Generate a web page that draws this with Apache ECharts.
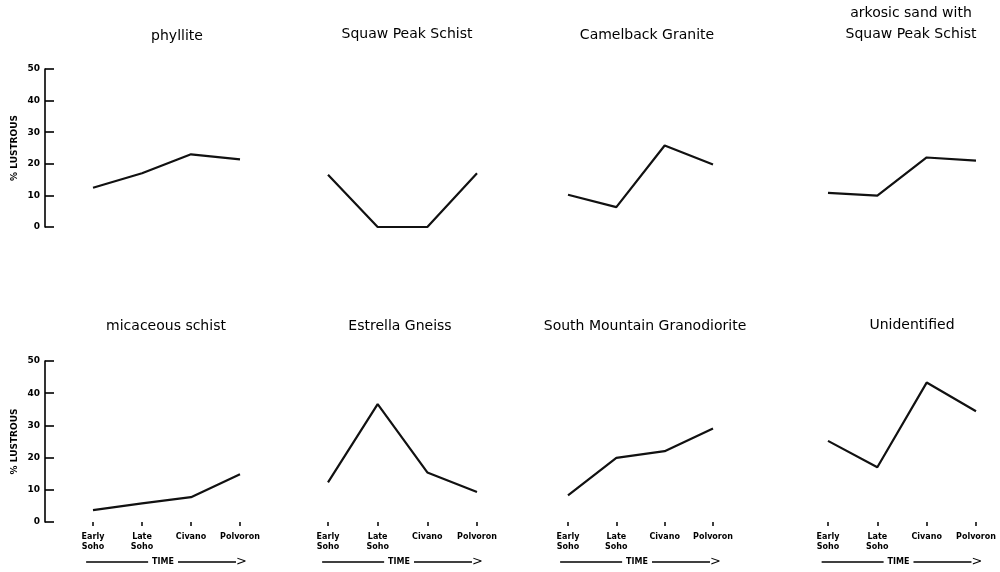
<!DOCTYPE html>
<html>
<head>
<meta charset="utf-8">
<script src="https://cdn.jsdelivr.net/npm/echarts@6/dist/echarts.min.js"></script>
<style>html,body{margin:0;padding:0;background:#fff;}#c{width:1000px;height:572px;}</style>
</head>
<body>
<div id="c"></div>
<script>
var categories = ['Early\nSoho', 'Late\nSoho', 'Civano', 'Polvoron'];
var yTicks = [0, 10, 20, 30, 40, 50];

var titles = ['phyllite', 'Squaw Peak Schist', 'Camelback Granite', 'arkosic sand with\nSquaw Peak Schist',
              'micaceous schist', 'Estrella Gneiss', 'South Mountain Granodiorite', 'Unidentified'];

var phyllite      = [12.4, 17, 23, 21.4];
var squawPeak     = [16.5, 0, 0, 17];
var camelback     = [10.2, 6.3, 25.8, 19.8];
var arkosic       = [10.8, 9.9, 22, 21];
var micaceous     = [3.7, 5.8, 7.7, 14.8];
var estrella      = [12.3, 36.6, 15.4, 9.3];
var southMountain = [8.3, 19.9, 22, 29];
var unidentified  = [25.2, 17, 43.3, 34.4];

var seriesData = [phyllite, squawPeak, camelback, arkosic, micaceous, estrella, southMountain, unidentified];

// layout
var colLeft = [93, 328, 568, 828];
var colWidth = [147, 149, 145, 148];
var rowTop = [69, 361];
var rowHeight = [158, 161];
var titleCx = [177, 407, 647, 911, 166, 400, 645, 912];
var titleCy = [36, 34, 35, 23.5, 326, 326, 326, 325];

var FONT = 'DejaVu Sans';
var grids = [], xAxes = [], yAxes = [], series = [], titleComps = [];

for (var i = 0; i < 8; i++) {
  var row = i < 4 ? 0 : 1;
  var col = i % 4;
  grids.push({left: colLeft[col], width: colWidth[col], top: rowTop[row], height: rowHeight[row]});
  var bottomRow = row === 1;
  xAxes.push({
    type: 'category', gridIndex: i, data: categories, boundaryGap: false,
    offset: 2,
    show: bottomRow,
    axisLine: {show: false},
    axisTick: {show: true, alignWithLabel: true, length: 4, lineStyle: {color: '#000', width: 1.5}},
    axisLabel: {show: true, interval: 0, margin: 8, color: '#000', fontFamily: FONT, fontWeight: 'bold',
                fontSize: 8, lineHeight: 10},
    name: bottomRow ? '{l|}{t|TIME}{r|}{a|>}' : '',
    nameLocation: 'middle', nameGap: 31,
    nameTextStyle: {
      rich: {
        l: {width: 62, height: 1.6, backgroundColor: '#000', verticalAlign: 'middle'},
        t: {fontFamily: FONT, fontWeight: 'bold', fontSize: 8, color: '#000', padding: [0, 4, 0, 4], verticalAlign: 'middle'},
        r: {width: 58, height: 1.6, backgroundColor: '#000', verticalAlign: 'middle'},
        a: {fontFamily: FONT, fontSize: 13, color: '#000', verticalAlign: 'middle', padding: [0, 0, 1, 0]}
      }
    }
  });
  var firstCol = col === 0;
  yAxes.push({
    type: 'value', gridIndex: i, min: 0, max: 50, interval: 10,
    show: firstCol,
    offset: 48,
    axisLine: {show: true, lineStyle: {color: '#000', width: 1.6}},
    axisTick: {show: true, inside: true, length: 9, lineStyle: {color: '#000', width: 1.6}},
    splitLine: {show: false},
    axisLabel: {show: true, margin: 5, color: '#000', fontFamily: FONT, fontWeight: 'bold', fontSize: 9,
                customValues: yTicks},
    name: firstCol ? '% LUSTROUS' : '',
    nameLocation: 'middle', nameRotate: 90, nameGap: 26,
    nameTextStyle: {fontFamily: FONT, fontWeight: 'bold', fontSize: 9, color: '#000'}
  });
  series.push({
    type: 'line', xAxisIndex: i, yAxisIndex: i, data: seriesData[i],
    symbol: 'none', clip: false,
    lineStyle: {color: '#111', width: 2.2},
    animation: false
  });
  var multi = titles[i].indexOf('\n') >= 0;
  titleComps.push({
    text: titles[i],
    left: titleCx[i], top: titleCy[i] - (multi ? 21 : 9),
    textAlign: 'center', padding: 0,
    textStyle: {fontFamily: FONT, fontSize: 14, fontWeight: 'normal', color: '#000', lineHeight: multi ? 21 : 18}
  });
}

var chart = echarts.init(document.getElementById('c'), null, {renderer: 'canvas'});
chart.setOption({
  backgroundColor: '#fff',
  animation: false,
  title: titleComps,
  grid: grids,
  xAxis: xAxes,
  yAxis: yAxes,
  series: series
});
</script>
</body>
</html>
